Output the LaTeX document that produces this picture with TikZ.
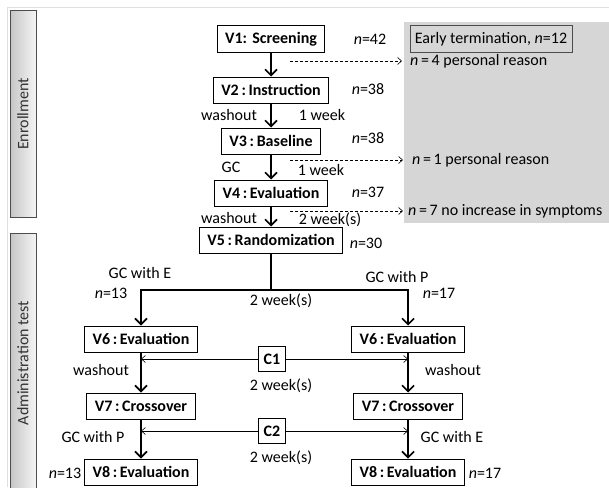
\documentclass[tikz,border=0pt]{standalone}
\usepackage{fontspec}
\usepackage{graphicx}
\setmainfont{Carlito}
\usetikzlibrary{arrows.meta}

\tikzset{
	visit/.style={draw, line width=1pt, font=\fontsize{16}{19}\selectfont\bfseries, minimum height=26pt, inner xsep=8pt, inner ysep=2pt},
	flow/.style={line width=1.6pt, -{Straight Barb[length=6pt,width=12pt]}},
	drop/.style={densely dashed, line width=0.6pt, -{Straight Barb[length=4pt,width=7pt]}},
	cross/.style={line width=0.6pt, -{Straight Barb[length=4pt,width=7pt]}},
	phase/.style={draw=gray!60!black, line width=1pt, left color=gray!45, right color=gray!8, minimum width=26pt, text=black!80},
	tag/.style={inner sep=1pt},
}
\newcommand{\nn}{\textit{n}}

\begin{document}
\begin{tikzpicture}[x=1pt,y=-1pt,font=\fontsize{16}{19}\selectfont]
			\useasboundingbox (0,0) rectangle (609,487);
			\draw [gray!25, line width=0.8pt] (7,487) -- (7,7) -- (609,7);
			
			\node [phase, minimum height=206pt] (enroll) at (23,114) {\rotatebox{90}{Enrollment}};
			\node [phase, minimum height=260pt] (admin) at (23,363) {\rotatebox{90}{Administration test}};
			
			\fill [black!16] (404,22) rectangle (609,223);
			\node [draw=gray!60!black, line width=0.8pt, minimum height=27pt, inner xsep=5pt] (early) at (491,39) {Early termination, \nn=12};
			
			\node [visit] (v1) at (271,39) {V1:\,\,Screening};
			\node [visit] (v2) at (271,90) {V2\,:\,Instruction};
			\node [visit] (v3) at (271,141) {V3\,:\,Baseline};
			\node [visit] (v4) at (271,193) {V4\,:\,Evaluation};
			\node [visit] (v5) at (271,240) {V5\,:\,Randomization};
			
			\node [tag] (n42) at (370,39) {\nn=42};
			\node [tag] (n38a) at (368,89) {\nn=38};
			\node [tag] (n38b) at (368,138) {\nn=38};
			\node [tag] (n37) at (368,192) {\nn=37};
			\node [tag] (n30) at (366,243) {\nn=30};
			
			\draw [flow] (v1) -- (v2);
			\draw [flow] (v2) -- (v3);
			\draw [flow] (v3) -- (v4);
			\draw [flow] (v4) -- (v5);
			
			\node [tag] (wash1) at (229,115) {washout};
			\node [tag] (wk1) at (322,115) {1 week};
			\node [tag] (gc) at (231,167) {GC};
			\node [tag] (wk2) at (321,170) {1 week};
			\node [tag] (wash2) at (229,218) {washout};
			\node [tag] (wk3) at (330,220) {2 week(s)};
			
			\node [tag, anchor=west] (r1) at (409,61) {\nn\,=\,4 personal reason};
			\node [tag, anchor=west] (r2) at (411,160) {\nn\,=\,1 personal reason};
			\node [tag, anchor=west] (r3) at (407,211) {\nn\,=\,7 no increase in symptoms};
			\coordinate (d1) at (290,61);
			\coordinate (d2) at (290,160);
			\coordinate (d3) at (290,211);
			\draw [drop, shorten >=7pt] (d1) -- (r1.west);
			\draw [drop, shorten >=8pt] (d2) -- (r2.west);
			\draw [drop, shorten >=4pt] (d3) -- (r3.west);
			
			\node [visit] (v6l) at (141,339) {V6\,:\,Evaluation};
			\node [visit] (v6r) at (408,339) {V6\,:\,Evaluation};
			\node [visit] (v7l) at (141,406) {V7\,:\,Crossover};
			\node [visit] (v7r) at (408,406) {V7\,:\,Crossover};
			\node [visit] (v8l) at (141,472) {V8\,:\,Evaluation};
			\node [visit] (v8r) at (408,472) {V8\,:\,Evaluation};
			\node [visit, minimum height=25pt, inner xsep=5pt] (c1) at (272,359) {C1};
			\node [visit, minimum height=25pt, inner xsep=5pt] (c2) at (272,431) {C2};
			
			\coordinate (split) at (271,290);
			\draw [line width=1.6pt] (v5) -- (split);
			\draw [flow] (split) -| (v6l);
			\draw [flow] (split) -| (v6r);
			\draw [flow] (v6l) -- (v7l);
			\draw [flow] (v7l) -- (v8l);
			\draw [flow] (v6r) -- (v7r);
			\draw [flow] (v7r) -- (v8r);
			\draw [cross] (c1) -- (c1 -| v6l);
			\draw [cross] (c1) -- (c1 -| v6r);
			\draw [cross] (c2) -- (c2 -| v7l);
			\draw [cross] (c2) -- (c2 -| v7r);
			
			\node [tag] (gce1) at (140,273) {GC with E};
			\node [tag] (n13a) at (111,293) {\nn=13};
			\node [tag] (gcp1) at (397,277) {GC with P};
			\node [tag] (n17a) at (439,293) {\nn=17};
			\node [tag] (wk4) at (281,301) {2 week(s)};
			\node [tag] (wash3) at (101,370) {washout};
			\node [tag] (wash4) at (453,370) {washout};
			\node [tag] (wk5) at (281,386) {2 week(s)};
			\node [tag] (gcp2) at (93,437) {GC with P};
			\node [tag] (gce2) at (452,437) {GC with E};
			\node [tag] (wk6) at (281,458) {2 week(s)};
			\node [tag] (n13b) at (65,473) {\nn=13};
			\node [tag] (n17b) at (485,473) {\nn=17};
			
\end{tikzpicture}
\end{document}
